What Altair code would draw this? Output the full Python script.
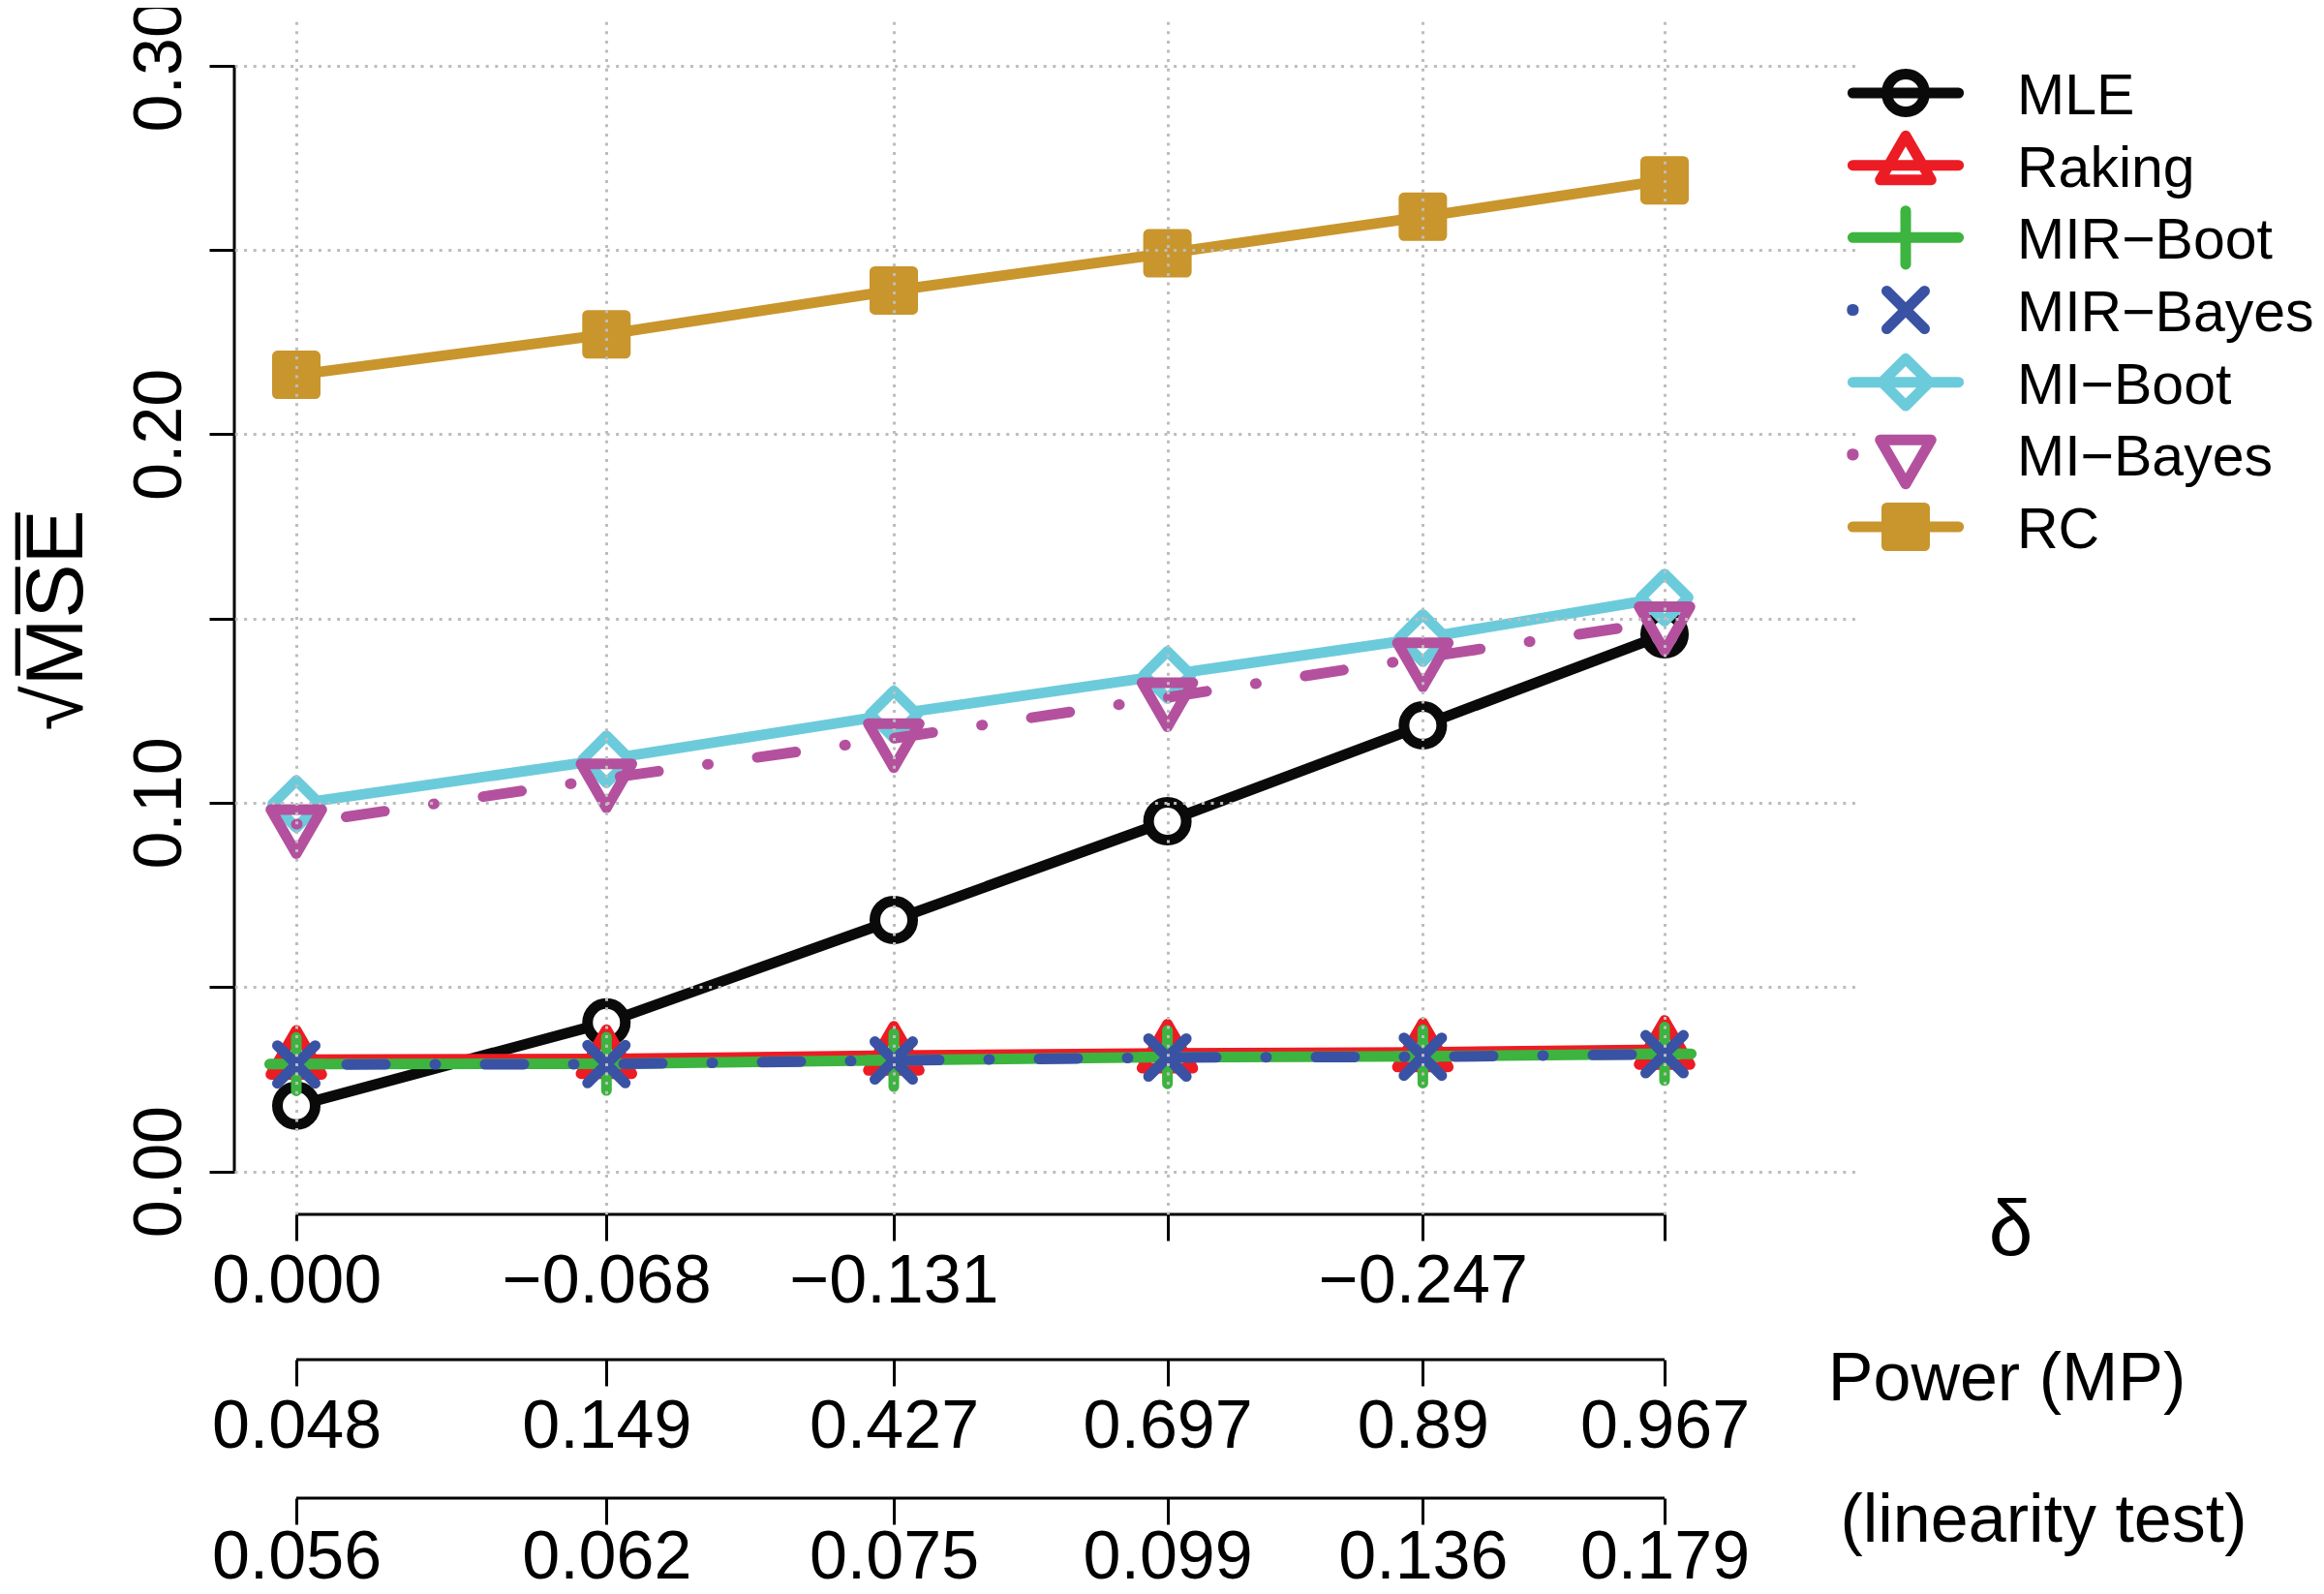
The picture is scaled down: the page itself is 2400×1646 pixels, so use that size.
import json
import altair as alt
import pandas as pd

# ---------------- data ----------------
delta = [0.000, -0.068, -0.131, -0.191, -0.247, -0.300]
delta_labels = ["0.000", "\u22120.068", "\u22120.131", "", "\u22120.247", ""]
power_labels = ["0.048", "0.149", "0.427", "0.697", "0.89", "0.967"]
linearity_labels = ["0.056", "0.062", "0.075", "0.099", "0.136", "0.179"]
y_ticks = [0.0, 0.05, 0.10, 0.15, 0.20, 0.25, 0.30]
y_tick_labels = ["0.00", "", "0.10", "", "0.20", "", "0.30"]

series = ["MLE", "Raking", "MIR-Boot", "MIR-Bayes", "MI-Boot", "MI-Bayes", "RC"]
mle = [0.0178, 0.0404, 0.0682, 0.0950, 0.1210, 0.1457]
raking = [0.0303, 0.0305, 0.0314, 0.0320, 0.0323, 0.0330]
mir_boot = [0.0291, 0.0292, 0.0302, 0.0310, 0.0312, 0.0319]
mir_bayes = [0.0290, 0.0291, 0.0301, 0.0309, 0.0311, 0.0318]
mi_boot = [0.0997, 0.1118, 0.1240, 0.1347, 0.1447, 0.1557]
mi_bayes = [0.0942, 0.1066, 0.1175, 0.1286, 0.1394, 0.1492]
rc = [0.2161, 0.2271, 0.2390, 0.2491, 0.2590, 0.2689]
values = [mle, raking, mir_boot, mir_bayes, mi_boot, mi_bayes, rc]

rows = []
for name, vals in zip(series, values):
    for d, v in zip(delta, vals):
        rows.append({"series": name, "delta": d, "value": v})
df = pd.DataFrame(rows)
axis_df = pd.DataFrame({"x0": [delta[0]], "x1": [delta[-1]],
                        "y0": [y_ticks[0]], "y1": [y_ticks[-1]]})
leg_df = pd.DataFrame({"series": series,
                       "label": [s.replace("-", "\u2212") for s in series]})

# ---------------- styles ----------------
FONT = "Liberation Sans"
colors = {"MLE": "#0a0a0a", "Raking": "#ec1c24", "MIR-Boot": "#3cb43f",
          "MIR-Bayes": "#3a52a3", "MI-Boot": "#6ccbdb", "MI-Bayes": "#b4519e",
          "RC": "#c9952d"}
CIRCLE = "M1,0A1,1,0,1,1,-1,0A1,1,0,1,1,1,0Z"
TRI_UP = "M0,-1.555L1.347,0.778L-1.347,0.778Z"
PLUS = "M-1.414,0L1.414,0M0,-1.414L0,1.414"
CROSS = "M-1,-1L1,1M-1,1L1,-1"
DIAMOND = "M0,-1.25L1.25,0L0,1.25L-1.25,0Z"
TRI_DOWN = "M0,1.555L1.347,-0.778L-1.347,-0.778Z"
SQUARE = "M-1,-1L1,-1L1,1L-1,1Z"
markers = {"MLE": CIRCLE, "Raking": TRI_UP, "MIR-Boot": PLUS, "MIR-Bayes": CROSS,
           "MI-Boot": DIAMOND, "MI-Bayes": TRI_DOWN, "RC": SQUARE}
point_fill = {"MLE": "white", "MI-Boot": "white", "RC": colors["RC"]}
DOTDASH = [1, 51, 40, 51]
dashes = {"MIR-Bayes": DOTDASH, "MI-Bayes": DOTDASH}
SEG = "M-2.8,0L2.8,0"
DOT = "M-2.83,-0.03L-2.77,-0.03L-2.77,0.03L-2.83,0.03Z"
legend_paths = [SEG + CIRCLE, SEG + TRI_UP, SEG + PLUS, DOT + CROSS,
                SEG + DIAMOND, DOT + TRI_DOWN, SEG + SQUARE]
legend_fills = ["transparent"] * 6 + [colors["RC"]]

LW = 11
MSIZE = 1521
W, H = 1680, 1233
LEG_SYM_X, LEG_TXT_X = 1726, 1841
LEG_Y_RANGE = [75, 523]

xscale = alt.Scale(domain=[-0.343100, 0.013588], reverse=True, nice=False, zero=False)
yscale = alt.Scale(domain=[-0.011666, 0.312296], nice=False, zero=False)

GRID = dict(grid=True, gridColor="#bdbdbd", gridDash=[3, 6.6], gridWidth=3)


def lab_expr(labels, vals):
    return f"{json.dumps(labels, ensure_ascii=False)}[indexof({json.dumps(vals)}, datum.value)]"


def x_axis(labels, offset, title, tx, ty, tsize, grid, lpad):
    kw = dict(values=delta, labelExpr=lab_expr(labels, delta), orient="bottom",
              offset=offset, tickSize=27, tickWidth=3, tickColor="black",
              domain=False, labelFont=FONT, labelFontSize=70, labelColor="black",
              labelPadding=lpad, labelAngle=0, labelOverlap=False, labelFlush=False,
              labelBound=False, labelLimit=1000, title=title, titleFont=FONT,
              titleFontSize=tsize, titleFontWeight="normal", titleColor="black",
              titleX=tx, titleY=ty, titleAlign="center", titleBaseline="alphabetic",
              titleAngle=0, titleLimit=1000, zindex=1)
    if grid:
        kw.update(GRID)
    else:
        kw["grid"] = False
    return alt.Axis(**kw)


y_axis = alt.Axis(values=y_ticks, labelExpr=lab_expr(y_tick_labels, y_ticks), orient="left",
                  tickSize=26, tickWidth=3, tickColor="black", domain=False,
                  labelFont=FONT, labelFontSize=70, labelColor="black", labelAngle=270,
                  labelAlign="center", labelBaseline="alphabetic", labelPadding=30,
                  labelOverlap=False, labelBound=False, labelFlush=False, labelLimit=1000,
                  title="\u221aM\u0305S\u0305E\u0305", titleFont=FONT, titleFontSize=84,
                  titleFontWeight="normal", titleColor="black", titleAngle=270,
                  titleX=-158, titleY=619, titleAlign="center", titleBaseline="alphabetic",
                  titleLimit=1000, zindex=1, **GRID)

base = alt.Chart(df)
X = alt.X("delta:Q", scale=xscale, axis=None)
Y = alt.Y("value:Q", scale=yscale, axis=None)

layers = []
for name in series:
    sub = base.transform_filter(alt.datum.series == name)
    lk = dict(color=colors[name], strokeWidth=LW, strokeCap="round", strokeJoin="round")
    if name in dashes:
        lk["strokeDash"] = dashes[name]
    layers.append(sub.mark_line(**lk).encode(x=X, y=Y))
    pk = dict(shape=markers[name], size=MSIZE, strokeWidth=LW, stroke=colors[name],
              opacity=1, strokeJoin="round", strokeCap="round")
    if name in point_fill:
        pk.update(filled=True, fill=point_fill[name])
    else:
        pk.update(filled=False)
    layers.append(sub.mark_point(**pk).encode(x=X, y=Y))

# legend (drawn from the series list through point scales)
LY = alt.Y("series:N", axis=None,
           scale=alt.Scale(type="point", domain=series, range=LEG_Y_RANGE, padding=0))
legend_sym = alt.Chart(leg_df).mark_point(
    size=MSIZE, strokeWidth=LW, opacity=1, filled=True, strokeJoin="round", strokeCap="round"
).encode(
    x=alt.value(LEG_SYM_X), y=LY,
    stroke=alt.Stroke("series:N", scale=alt.Scale(domain=series, range=[colors[s] for s in series]), legend=None),
    fill=alt.Fill("series:N", scale=alt.Scale(domain=series, range=legend_fills), legend=None),
    shape=alt.Shape("series:N", scale=alt.Scale(domain=series, range=legend_paths), legend=None),
)
legend_txt = alt.Chart(leg_df).mark_text(
    align="left", baseline="middle", dy=4, font=FONT, fontSize=59, color="black"
).encode(x=alt.value(LEG_TXT_X), y=LY, text="label:N")

axes_base = alt.Chart(axis_df)
yline = axes_base.mark_rule(color="black", strokeWidth=3).encode(
    x=alt.value(0), y=alt.Y("y0:Q", scale=yscale, axis=y_axis), y2="y1:Q")
xline1 = axes_base.mark_rule(color="black", strokeWidth=3).encode(
    x=alt.X("x0:Q", scale=xscale, axis=x_axis(delta_labels, 0, "\u03b4", 1834, 41, 82, True, 8)),
    x2="x1:Q", y=alt.value(H))
xline2 = axes_base.mark_rule(color="black", strokeWidth=3).encode(
    x=alt.X("x0:Q", scale=xscale, axis=x_axis(power_labels, 150, "Power (MP)", 1830, 41, 70, False, 8)),
    x2="x1:Q", y=alt.value(H + 150))
xline3 = axes_base.mark_rule(color="black", strokeWidth=3).encode(
    x=alt.X("x0:Q", scale=xscale, axis=x_axis(linearity_labels, 293, "(linearity test)", 1868, 44, 70, False, 0)),
    x2="x1:Q", y=alt.value(H + 293))
layers = [yline] + layers + [legend_sym, legend_txt, xline1, xline2, xline3]

chart = alt.layer(*layers).resolve_axis(x="independent", y="independent").resolve_scale(
    y="independent").properties(
    width=W, height=H,
    background="white",
    autosize=alt.AutoSizeParams(type="none"),
    padding={"left": 234, "top": 13, "right": 470, "bottom": 392},
).configure_view(stroke=None)

chart.save("out.html", embed_options={"renderer": "svg", "actions": False})
